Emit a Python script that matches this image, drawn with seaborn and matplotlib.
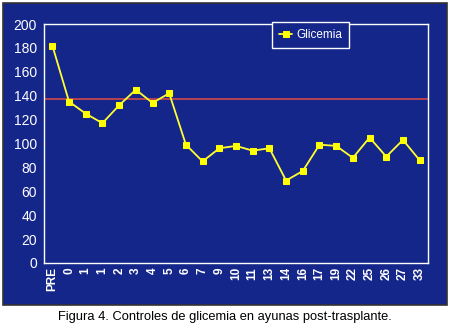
import numpy as np
import pandas as pd
import matplotlib
matplotlib.use('Agg')
import matplotlib.pyplot as plt
import seaborn as sns
from matplotlib.patches import Rectangle

# Fasting glucose controls after transplant
labels = ["PRE", "0", "1", "1", "2", "3", "4", "5", "6", "7", "9", "10", "11",
          "13", "14", "16", "17", "19", "22", "25", "26", "27", "33"]
glicemia = [182, 135, 125, 117, 132, 145, 134, 142, 99, 85, 96, 98, 94,
            96, 69, 77, 99, 98, 88, 105, 89, 103, 86]
threshold = 137

blue = "#14268a"

sns.set_style("white")
plt.rcParams['font.family'] = ['Liberation Sans', 'DejaVu Sans']

df = pd.DataFrame({"pos": np.arange(len(labels)), "Glicemia": glicemia})

fig = plt.figure(figsize=(4.5, 3.29), dpi=100)
fig.patch.set_facecolor("white")
panel = Rectangle((3 / 450, 24 / 329), 444 / 450, 302 / 329,
                  transform=fig.transFigure, facecolor=blue,
                  edgecolor="#333333", linewidth=1.2, zorder=-5)
fig.patches.append(panel)

ax = fig.add_axes([44 / 450, 66 / 329, 384 / 450, 239 / 329])
ax.set_zorder(2)
ax.set_facecolor(blue)

ax.axhline(threshold, color="#d04848", linewidth=1.2, zorder=1)
sns.lineplot(data=df, x="pos", y="Glicemia", ax=ax, color="#ffff33",
             linewidth=1.3, marker="s", markersize=4.6,
             markerfacecolor="#ffff00", markeredgecolor="#ffff00",
             label="Glicemia", zorder=3)

ax.set_xlim(-0.5, len(labels) - 0.5)
ax.set_ylim(0, 200)
ax.set_yticks(range(0, 201, 20))
ax.set_xticks(np.arange(-0.5, len(labels), 1))
ax.set_xticklabels([])
ax.set_xticks(np.arange(len(labels)), minor=True)
ax.set_xticklabels(labels, minor=True, rotation=90, fontweight="bold")
ax.tick_params(axis="x", which="major", direction="inout", length=6,
               color="white", width=1)
ax.tick_params(axis="x", which="minor", length=0, labelsize=8.5,
               labelcolor="white", pad=3)
ax.tick_params(axis="y", direction="inout", length=6, color="white",
               width=1, labelsize=10, labelcolor="white", pad=2)
ax.set_xlabel("")
ax.set_ylabel("")
for s in ax.spines.values():
    s.set_color("white")
    s.set_linewidth(1.0)

leg = ax.legend(loc="upper left", bbox_to_anchor=(0.594, 1.01),
                frameon=True, fancybox=False, fontsize=8.5,
                handlelength=1.1, borderpad=0.6, handletextpad=0.35,
                borderaxespad=0)
leg.get_frame().set_facecolor(blue)
leg.get_frame().set_edgecolor("white")
leg.get_frame().set_linewidth(1.0)
leg.get_frame().set_alpha(1)
for t in leg.get_texts():
    t.set_color("white")

fig.text(0.5, 12 / 329, "Figura 4. Controles de glicemia en ayunas post-trasplante.",
         ha="center", va="center", fontsize=9.3, color="black")

fig.savefig("out.png", dpi=100)
